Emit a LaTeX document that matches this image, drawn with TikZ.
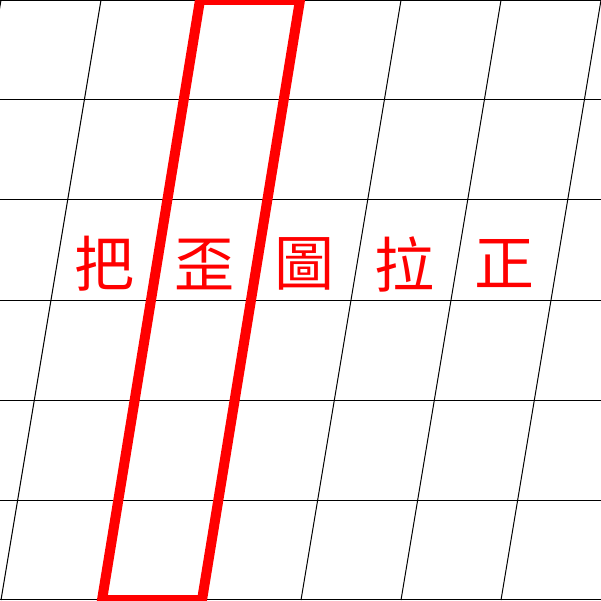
\documentclass[tikz,border=0pt]{standalone}
\usepackage{fontspec}
\newfontfamily\cjk{Noto Sans CJK TC}
\begin{document}
\begin{tikzpicture}[x=1pt,y=-1pt,
  gridline/.style={black,line width=1pt},
  redbox/.style={draw=red,line width=10pt,line join=miter},
  word/.style={text=red,font=\cjk\fontsize{60}{60}\selectfont,inner sep=0pt,anchor=center}]
\useasboundingbox (0,0) rectangle (601,601);
\clip (0,0) rectangle (601,601);
\fill[white] (0,0) rectangle (601,601);
% horizontal lines
\foreach \y in {0.5,100,200,300,400,500,599.5}
  \draw[gridline] (0,\y) -- (601,\y);
% slanted lines
\foreach \x in {0,100,...,600}
  \draw[gridline] (\x+1,0) -- (\x-99,600);
% red parallelogram
\draw[redbox] (200,0) -- (300,0) -- (202,600) -- (102,600) -- cycle;
% text
\node[word] (t1) at (104,264) {把};
\node[word] (t2) at (204,264) {歪};
\node[word] (t3) at (304,264) {圖};
\node[word] (t4) at (404,264) {拉};
\node[word] (t5) at (504,264) {正};
\end{tikzpicture}
\end{document}
